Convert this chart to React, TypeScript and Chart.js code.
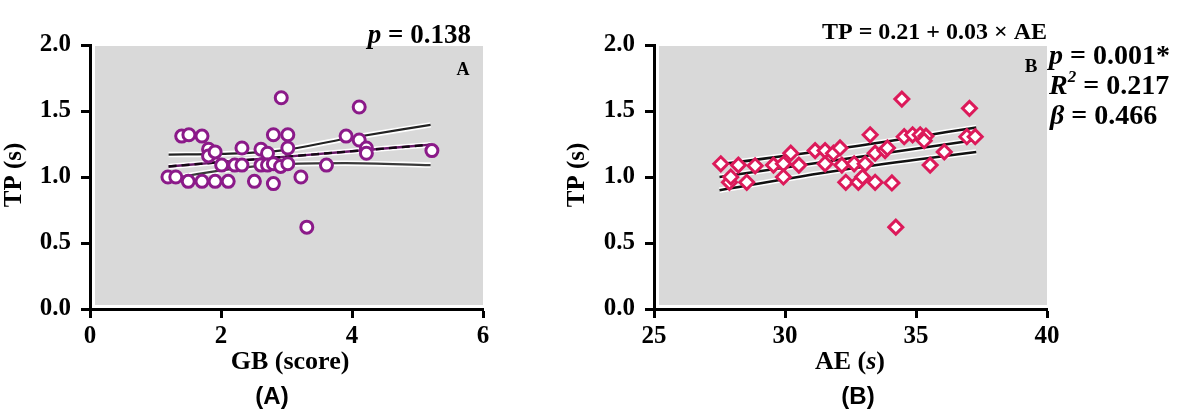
import { useEffect, useRef } from "react"
import { Chart, registerables } from "chart.js"

Chart.register(...registerables)

const SERIF = "'Liberation Serif', 'Times New Roman', serif"
const SANS = "'Liberation Sans', Arial, sans-serif"

// Panel A: GB (score) vs TP (s)
const gbScore = [1.19, 1.31, 1.40, 1.51, 1.50, 1.71, 1.71, 1.81, 1.81, 1.91, 1.91, 2.01, 2.11, 2.21, 2.32, 2.32, 2.51, 2.61, 2.61, 2.71, 2.71, 2.80, 2.80, 2.80, 2.92, 2.91, 3.02, 3.02, 3.02, 3.22, 3.31, 3.61, 3.91, 4.11, 4.11, 4.22, 4.22, 5.22]
const gbTp = [1.0, 1.0, 1.31, 1.32, 0.967, 1.31, 0.967, 1.21, 1.16, 1.19, 0.967, 1.09, 0.967, 1.09, 1.09, 1.22, 0.967, 1.21, 1.09, 1.18, 1.09, 1.32, 1.10, 0.95, 1.60, 1.08, 1.32, 1.22, 1.10, 1.0, 0.62, 1.09, 1.31, 1.53, 1.28, 1.22, 1.18, 1.20]

// Panel A regression line and 95% bands
const gbFitX = [1.2, 2.0, 2.9, 3.9, 5.2]
const gbFitMid = [1.08, 1.113, 1.15, 1.191, 1.245]
const gbFitUpper = [1.17, 1.175, 1.2, 1.29, 1.395]
const gbFitLower = [0.985, 1.05, 1.095, 1.105, 1.09]

// Panel B: AE (s) vs TP (s)
const aeSec = [27.55, 27.88, 27.93, 28.22, 28.54, 28.86, 29.56, 29.94, 29.94, 30.22, 30.53, 31.15, 31.53, 31.53, 31.85, 32.10, 32.17, 32.32, 32.64, 32.80, 32.96, 33.06, 33.25, 33.44, 33.44, 33.82, 33.91, 34.08, 34.23, 34.46, 34.55, 34.87, 35.16, 35.38, 35.31, 35.54, 36.08, 36.94, 37.04, 37.26]
const aeTp = [1.10, 0.96, 1.00, 1.09, 0.96, 1.085, 1.09, 1.10, 1.00, 1.18, 1.09, 1.20, 1.20, 1.10, 1.18, 1.22, 1.09, 0.96, 1.10, 0.96, 1.00, 1.10, 1.32, 1.18, 0.96, 1.20, 1.22, 0.955, 0.62, 1.59, 1.305, 1.32, 1.32, 1.31, 1.275, 1.09, 1.19, 1.305, 1.52, 1.305]

const aeFitX = [27.5, 32.4, 37.3]
const aeFitMid = [1.0, 1.14, 1.28]
const aeFitUpper = [1.095, 1.225, 1.375]
const aeFitLower = [0.9, 1.06, 1.19]

const yTicks = { min: 0, max: 2, step: 0.5 }
const gbTicks = { min: 0, max: 6, step: 2 }
const aeTicks = { min: 25, max: 40, step: 5 }

type Run = { t: string; italic?: boolean; sup?: boolean }

function drawRuns(ctx: CanvasRenderingContext2D, runs: Run[], x: number, y: number, size: number, align: "left" | "right" | "center", family = SERIF) {
  const fontFor = (r: Run) => `${r.italic ? "italic " : ""}bold ${r.sup ? Math.round(size * 0.62) : size}px ${family}`
  let total = 0
  for (const r of runs) {
    ctx.font = fontFor(r)
    total += ctx.measureText(r.t).width
  }
  let cx = align === "left" ? x : align === "right" ? x - total : x - total / 2
  ctx.textAlign = "left"
  ctx.textBaseline = "middle"
  ctx.fillStyle = "#000"
  for (const r of runs) {
    ctx.font = fontFor(r)
    ctx.fillText(r.t, cx, r.sup ? y - size * 0.32 : y)
    cx += ctx.measureText(r.t).width
  }
}

function pairs(xs: number[], ys: number[]) {
  return xs.map((x, i) => ({ x, y: ys[i] }))
}

function fitLine(xs: number[], ys: number[], color: string, width: number, dash: number[] = []) {
  return {
    data: pairs(xs, ys),
    showLine: true,
    pointRadius: 0,
    borderColor: color,
    borderWidth: width,
    borderDash: dash,
    cubicInterpolationMode: "monotone" as const,
    fill: false,
  }
}

function axis(t: { min: number; max: number; step: number }, fmt: (v: number) => string, fit: (s: any) => void, pad: number) {
  return {
    type: "linear" as const,
    min: t.min,
    max: t.max,
    ticks: {
      stepSize: t.step,
      color: "#000",
      padding: pad,
      font: { family: SERIF, size: 25, weight: "bold" as const },
      callback: (v: any) => fmt(Number(v)),
    },
    border: { display: true, color: "#000", width: 3 },
    grid: { display: true, drawOnChartArea: false, drawTicks: true, tickLength: 9, tickWidth: 3, tickColor: "#000" },
    afterFit: fit,
  }
}

function decor(drawTexts: (ctx: CanvasRenderingContext2D) => void) {
  return {
    id: "panelDecor",
    beforeDraw(chart: Chart) {
      const { ctx, chartArea: a } = chart
      ctx.save()
      ctx.fillStyle = "#d9d9d9"
      ctx.fillRect(a.left + 5, a.top + 1, a.right - a.left - 5, a.bottom - a.top - 5)
      ctx.restore()
    },
    afterDraw(chart: Chart) {
      const ctx = chart.ctx
      ctx.save()
      drawTexts(ctx)
      ctx.restore()
    },
  }
}

function verticalTitle(ctx: CanvasRenderingContext2D, runs: Run[], x: number, y: number) {
  ctx.save()
  ctx.translate(x, y)
  ctx.rotate(-Math.PI / 2)
  drawRuns(ctx, runs, 0, 0, 25, "center")
  ctx.restore()
}

function buildConfig(opts: {
  xs: number[]
  ys: number[]
  xTicks: { min: number; max: number; step: number }
  marker: "circle" | "rectRot"
  color: string
  fitX: number[]
  mid: number[]
  upper: number[]
  lower: number[]
  midStyle: "purpleDash" | "solid"
  rightPad: number
  texts: (ctx: CanvasRenderingContext2D) => void
}): any {
  const lines =
    opts.midStyle === "purpleDash"
      ? [
          fitLine(opts.fitX, opts.mid, "#140814", 2.4, [8, 5]),
          fitLine(opts.fitX, opts.mid, "#6a1a6a", 2.4),
          fitLine(opts.fitX, opts.upper, "#222", 2.2),
          fitLine(opts.fitX, opts.lower, "#3a3a3a", 2.2),
        ]
      : [
          fitLine(opts.fitX, opts.mid, "#111", 2.6),
          fitLine(opts.fitX, opts.upper, "#111", 2.6),
          fitLine(opts.fitX, opts.lower, "#111", 2.6),
        ]
  const halos = [opts.mid, opts.upper, opts.lower].map((ys) => fitLine(opts.fitX, ys, "#ffffff", 5.5))
  return {
    type: "scatter",
    data: {
      datasets: [
        {
          data: pairs(opts.xs, opts.ys),
          pointStyle: opts.marker,
          pointRadius: opts.marker === "circle" ? 6 : 7,
          pointBorderWidth: 3,
          pointBorderColor: opts.color,
          pointBackgroundColor: "#ffffff",
          showLine: false,
        },
        ...lines,
        ...halos,
      ],
    },
    options: {
      animation: false,
      responsive: true,
      maintainAspectRatio: false,
      events: [],
      layout: { padding: { left: 0, top: 45, right: opts.rightPad, bottom: 37 } },
      plugins: { legend: { display: false }, tooltip: { enabled: false } },
      scales: {
        x: axis(opts.xTicks, (v) => String(v), (s) => { s.height = 70 }, 4),
        y: axis(yTicks, (v) => v.toFixed(1), (s) => { s.width = 90 }, 10),
      },
    },
    plugins: [decor(opts.texts)],
  }
}

const buildA = () =>
  buildConfig({
    xs: gbScore,
    ys: gbTp,
    xTicks: gbTicks,
    marker: "circle",
    color: "#8b1a89",
    fitX: gbFitX,
    mid: gbFitMid,
    upper: gbFitUpper,
    lower: gbFitLower,
    midStyle: "purpleDash",
    rightPad: 107,
    texts: (ctx) => {
      drawRuns(ctx, [{ t: "p", italic: true }, { t: " = 0.138" }], 471, 36, 27, "right")
      drawRuns(ctx, [{ t: "A" }], 463, 70, 18, "center")
      drawRuns(ctx, [{ t: "GB (score)" }], 290, 362, 26, "center")
      verticalTitle(ctx, [{ t: "TP (s)" }], 15, 175)
      drawRuns(ctx, [{ t: "(A)" }], 272, 397, 24, "center", SANS)
    },
  })

const buildB = () =>
  buildConfig({
    xs: aeSec,
    ys: aeTp,
    xTicks: aeTicks,
    marker: "rectRot",
    color: "#dc1a5a",
    fitX: aeFitX,
    mid: aeFitMid,
    upper: aeFitUpper,
    lower: aeFitLower,
    midStyle: "solid",
    rightPad: 134,
    texts: (ctx) => {
      drawRuns(ctx, [{ t: "TP = 0.21 + 0.03 × AE" }], 483, 33, 24, "right")
      drawRuns(ctx, [{ t: "B" }], 467, 67, 19, "center")
      drawRuns(ctx, [{ t: "p", italic: true }, { t: " = 0.001*" }], 485, 57, 28, "left")
      drawRuns(ctx, [{ t: "R", italic: true }, { t: "2", italic: true, sup: true }, { t: " = 0.217" }], 485, 87, 28, "left")
      drawRuns(ctx, [{ t: "β", italic: true }, { t: " = 0.466" }], 486, 117, 28, "left")
      drawRuns(ctx, [{ t: "AE (" }, { t: "s", italic: true }, { t: ")" }], 286, 362, 26, "center")
      verticalTitle(ctx, [{ t: "TP (s)" }], 14, 175)
      drawRuns(ctx, [{ t: "(B)" }], 294, 397, 24, "center", SANS)
    },
  })

function ScatterPanel({ left, width, build }: { left: number; width: number; build: () => any }) {
  const canvasRef = useRef<HTMLCanvasElement>(null)

  useEffect(() => {
    if (!canvasRef.current) return
    const chart = new Chart(canvasRef.current, build())
    return () => chart.destroy()
  }, [build])

  return (
    <div style={{ position: "absolute", left, top: 0, width, height: 416 }}>
      <canvas ref={canvasRef} />
    </div>
  )
}

export default function App() {
  return (
    <div style={{ position: "absolute", left: 0, top: 0, width: 1181, height: 416, background: "#fff" }}>
      <ScatterPanel left={0} width={590} build={buildA} />
      <ScatterPanel left={564} width={617} build={buildB} />
    </div>
  )
}
